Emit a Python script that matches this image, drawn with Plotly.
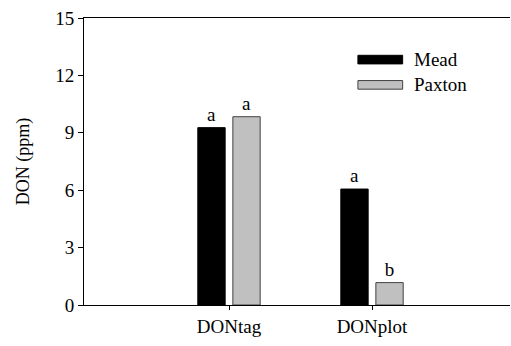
import plotly.graph_objects as go

categories = ["DONtag", "DONplot"]
mead = [9.27, 6.06]
paxton = [9.84, 1.17]
mead_letters = ["a", "a"]
paxton_letters = ["a", "b"]
y_ticks = [0, 3, 6, 9, 12, 15]

FONT = "Times New Roman, Liberation Serif, serif"

fig = go.Figure()
fig.add_trace(go.Bar(x=categories, y=mead, name="Mead",
                     marker=dict(color="black", line=dict(color="black", width=1)),
                     text=mead_letters, textposition="outside",
                     textfont=dict(family=FONT, size=19, color="black"),
                     cliponaxis=False))
fig.add_trace(go.Bar(x=categories, y=paxton, name="Paxton",
                     marker=dict(color="#c0c0c0", line=dict(color="#404040", width=1)),
                     text=paxton_letters, textposition="outside",
                     textfont=dict(family=FONT, size=19, color="black"),
                     cliponaxis=False))

fig.update_layout(
    width=511, height=346,
    margin=dict(l=84, r=1, t=18, b=41),
    paper_bgcolor="white", plot_bgcolor="white",
    barmode="group", bargap=0.51, bargroupgap=0.22,
    showlegend=False,
    font=dict(family=FONT, size=19, color="black"),
    xaxis=dict(type="category", range=[-1.014, 1.965], automargin=False,
               showline=True, linecolor="black", linewidth=1, mirror=True,
               ticks="outside", ticklen=4, tickcolor="black",
               showgrid=False, tickfont=dict(family=FONT, size=19)),
    yaxis=dict(range=[0, 15], tickvals=y_ticks, automargin=False,
               showline=True, linecolor="black", linewidth=1,
               ticks="outside", ticklen=5, tickcolor="black",
               showgrid=False, zeroline=False, tickfont=dict(family=FONT, size=19),
               title=dict(text="DON (ppm)", font=dict(family=FONT, size=18), standoff=20)),
)

# manual legend (SigmaPlot style)
legend_items = [("Mead", "black", "black"), ("Paxton", "#c0c0c0", "#404040")]
for i, (name, fill, edge) in enumerate(legend_items):
    yc = 0.855 - i * 0.088
    fig.add_shape(type="rect", xref="paper", yref="paper",
                  x0=0.643, x1=0.748, y0=yc - 0.015, y1=yc + 0.015,
                  fillcolor=fill, line=dict(color=edge, width=1))
    fig.add_annotation(xref="paper", yref="paper", x=0.771, y=yc,
                       text=name, showarrow=False, xanchor="left", yanchor="middle",
                       font=dict(family=FONT, size=19, color="black"))

fig.write_html(
    "out.html",
    config={"displayModeBar": False},
    post_script="document.body.style.margin='0';document.body.style.overflow='hidden';",
)
